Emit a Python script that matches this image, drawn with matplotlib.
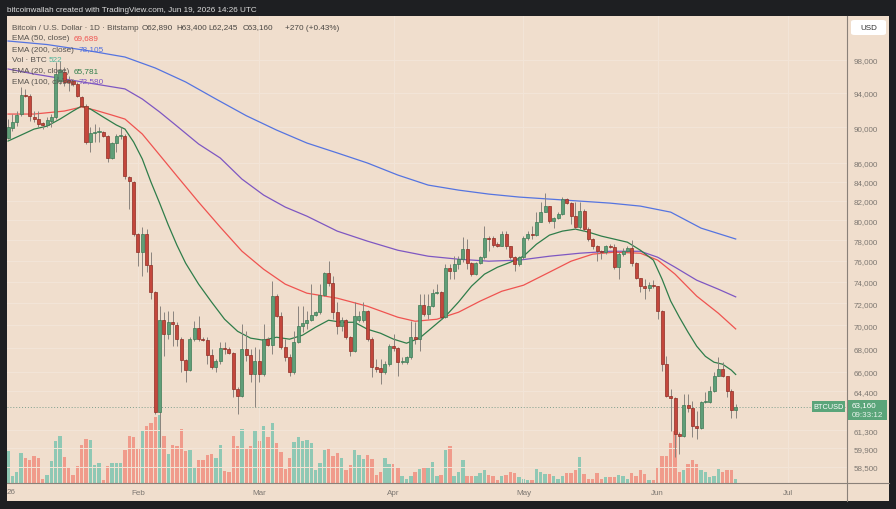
import matplotlib
matplotlib.use("Agg")
import matplotlib.pyplot as plt
import matplotlib.dates as mdates
from matplotlib.patches import Rectangle, FancyBboxPatch
from matplotlib.lines import Line2D
from matplotlib.ticker import NullLocator
import numpy as np
import pandas as pd

plt.rcParams['font.family'] = ['Liberation Sans', 'DejaVu Sans']

# daily candles, Jan 2 .. Jun 19 2026 (BTC/USD, Bitstamp)
opens = [88770, 89890, 90590, 91510, 93740, 93620, 91160, 90930, 90470, 90250,
         90700, 91160, 95430, 96530, 95550, 95430, 95070, 93500, 92450, 88320,
         89330, 89440, 89440, 88990, 86550, 88210, 88990, 88990, 84480, 83950,
         78590, 76810, 78590, 75550, 73010, 62700, 70460, 69220, 70280, 70010,
         68790, 66980, 66140, 68790, 69750, 68790, 68700, 67400, 66390, 66890,
         68010, 67920, 67580, 64560, 63980, 67920, 67400, 65800, 66890, 65800,
         68790, 68270, 72650, 70820, 68090, 67230, 65970, 68530, 69930, 70190,
         70460, 70910, 71180, 72740, 74790, 73850, 71180, 69930, 70460, 68960,
         67750, 70460, 70460, 71270, 68790, 66390, 66300, 65970, 66640, 68180,
         68010, 66810, 66810, 67230, 68960, 68790, 71810, 71000, 71720, 72920,
         73010, 70730, 75260, 74980, 75650, 76130, 77100, 75750, 74700, 75750,
         76320, 78190, 78190, 77590, 77390, 78590, 77390, 76320, 75650, 76320,
         78190, 78590, 78490, 79800, 80810, 81430, 79900, 80200, 80610, 82160,
         81740, 80400, 79290, 80910, 79090, 78090, 77390, 76900, 76810, 77390,
         77300, 75360, 76620, 76900, 77200, 75750, 74320, 73570, 73380, 73660,
         73570, 71270, 66640, 63980, 63820, 60970, 60820, 63260, 63020, 61590,
         61440, 63500, 63500, 64400, 65630, 66220, 65630, 64400, 62890]
highs = [90930, 91510, 91860, 94710, 94470, 93860, 91860, 91860, 90590, 91160,
         91510, 97750, 97880, 97130, 96040, 95670, 95310, 93620, 92680, 90010,
         90360, 90010, 89560, 89100, 88320, 89210, 90010, 89210, 84590, 84060,
         78690, 79290, 79090, 76810, 73100, 71720, 71180, 71270, 71270, 70280,
         68960, 67060, 68960, 70370, 70820, 68960, 68960, 67920, 67060, 68530,
         68530, 68090, 67660, 64720, 70100, 69480, 67920, 68090, 67920, 70100,
         68960, 74040, 72830, 71180, 68790, 67490, 69480, 71720, 71720, 71270,
         73760, 71270, 73760, 74890, 75940, 74510, 72100, 70730, 70550, 69050,
         72100, 71270, 72100, 71360, 68960, 67060, 67060, 66890, 68350, 69220,
         68090, 67230, 67310, 70370, 70280, 72830, 72830, 72830, 73290, 73760,
         73100, 75650, 75650, 76420, 76420, 78290, 78090, 75840, 75840, 76420,
         79390, 78390, 78390, 77790, 78890, 78890, 77390, 76420, 76420, 78390,
         78890, 79390, 80810, 81840, 82780, 81430, 80300, 80810, 82370, 82260,
         81840, 81840, 81840, 81120, 79290, 78190, 77490, 77000, 77490, 77590,
         77590, 76810, 77200, 77390, 77990, 75840, 74320, 74230, 73940, 74130,
         73570, 71360, 67310, 64560, 63900, 61130, 64150, 64150, 63580, 62780,
         63580, 64310, 64800, 65970, 67230, 66810, 65630, 64560, 63400]
lows = [88660, 89560, 90120, 91280, 93500, 90700, 90590, 90010, 89780, 90010,
        90010, 90930, 95070, 94830, 94230, 94830, 93500, 92330, 88100, 87210,
        88320, 88320, 88880, 86110, 86440, 87210, 88660, 84270, 81120, 78390,
        75460, 74510, 74890, 72370, 62540, 59970, 67310, 68790, 68180, 68180,
        65970, 65130, 66060, 68620, 68620, 68620, 66640, 66220, 65970, 66640,
        67490, 67490, 63900, 62540, 63900, 66890, 65130, 63100, 65130, 65630,
        68180, 67490, 70730, 67920, 66890, 65630, 65800, 68440, 69400, 69660,
        70370, 70820, 71000, 72650, 73570, 70550, 69220, 69480, 68790, 67310,
        67660, 70280, 70280, 68620, 65550, 65970, 64970, 65800, 66470, 67750,
        65630, 66640, 66640, 67060, 68350, 67750, 70820, 70550, 71630, 72830,
        70550, 70640, 74230, 74230, 75170, 75840, 75170, 74510, 74610, 75650,
        76130, 76900, 77300, 77300, 77390, 77100, 76130, 74980, 75460, 76130,
        77990, 78090, 78390, 79800, 80810, 79700, 79190, 80100, 80500, 81640,
        79600, 79090, 79090, 78890, 77890, 77100, 75940, 76130, 76620, 77200,
        75170, 74230, 76420, 76810, 75460, 74230, 73010, 72370, 73100, 73380,
        70550, 66060, 63900, 61210, 59220, 59440, 60740, 62700, 60740, 60590,
        61360, 63420, 63420, 64310, 65630, 65550, 63900, 62220, 62245]
closes = [90010, 90590, 91390, 93740, 93620, 91280, 90930, 90360, 90250, 90820,
          91160, 96280, 96770, 95310, 95310, 95070, 93620, 92450, 88320, 89330,
          89440, 89550, 88990, 86550, 88210, 88990, 89100, 84590, 84060, 78590,
          76810, 78590, 75550, 73010, 62700, 70460, 69220, 70280, 70100, 68790,
          66980, 66140, 68790, 69750, 68790, 68700, 67400, 66390, 66890, 68010,
          67920, 67580, 64560, 63980, 67920, 67400, 65800, 66890, 65800, 68790,
          68270, 72650, 70820, 68090, 67230, 65970, 68530, 69930, 70190, 70460,
          70910, 71180, 72740, 74790, 73850, 71180, 69930, 70460, 68960, 67750,
          70820, 70820, 71270, 68790, 66390, 66220, 65970, 66640, 68180, 68010,
          66810, 66890, 67230, 68960, 68790, 71810, 71000, 71720, 72920, 73010,
          70730, 75260, 74980, 75650, 76130, 77100, 75750, 74700, 75750, 76320,
          78190, 78090, 77490, 77390, 78590, 77390, 76320, 75650, 76320, 78190,
          78590, 78490, 79800, 80810, 81430, 79900, 80200, 80610, 82160, 81740,
          80400, 79290, 80910, 79090, 78090, 77390, 76900, 76810, 77390, 77300,
          75360, 76620, 76900, 77200, 75750, 74320, 73570, 73380, 73660, 73570,
          71270, 66640, 63980, 63820, 60970, 60820, 63260, 63020, 61590, 61440,
          63500, 63580, 64400, 65630, 66220, 65630, 64400, 62890, 63160]
volume = [4160, 910, 1430, 3900, 3250, 2990, 3510, 3250, 520, 1040,
          2860, 5460, 6110, 3380, 2080, 1040, 2210, 4940, 5720, 5590,
          2340, 2600, 390, 2210, 2600, 2600, 2600, 4290, 6070, 5980,
          4420, 6850, 7450, 7800, 8580, 8840, 6110, 3770, 4940, 4770,
          7020, 4120, 4250, 2080, 2950, 2950, 3680, 3810, 3250, 4980,
          1520, 1390, 6150, 4770, 7020, 4550, 4750, 6850, 5420, 7450,
          5980, 7800, 5200, 3990, 1820, 3250, 5290, 5980, 5500, 5630,
          5200, 1730, 2600, 4330, 4550, 3550, 3900, 3250, 1650, 2380,
          4250, 3680, 3120, 3680, 3120, 980, 1430, 3250, 2510, 2510,
          1950, 870, 520, 870, 1390, 1820, 1950, 1950, 2690, 950,
          1080, 4250, 4770, 950, 1390, 2950, 950, 870, 950, 1300,
          1730, 1080, 870, 350, 850, 1080, 1390, 1300, 780, 520,
          430, 430, 1820, 1390, 1170, 1170, 870, 520, 870, 1300,
          1300, 1650, 3380, 1210, 520, 520, 1300, 520, 780, 780,
          780, 1080, 870, 520, 1300, 950, 1650, 1210, 430, 430,
          2080, 3550, 3470, 5200, 6760, 1390, 1650, 2510, 3030, 2510,
          1730, 1390, 780, 950, 1820, 1390, 1650, 1730, 522]

# EMA readings (day offset from Jan 1, value)
ema20_days = [1, 4, 7, 10, 13, 16, 18, 20, 23, 26, 28, 30, 32, 34, 36, 38, 40, 42, 45, 48,
              51, 54, 57, 60, 63, 66, 69, 72, 75, 78, 81, 84, 87, 90, 93, 96, 99, 102, 105, 108,
              111, 114, 117, 120, 123, 126, 129, 132, 135, 138, 141, 144, 147, 150, 152, 154, 156, 158, 160, 162,
              164, 166, 168, 169]
ema20 = [88430, 89100, 89780, 90120, 90930, 91860, 92450, 92100, 91160, 90250,
         89780, 88320, 86440, 83950, 81740, 79500, 77490, 75750, 73760, 72100,
         70550, 69480, 68880, 68700, 68960, 68790, 69140, 69840, 70460, 70280,
         70280, 69660, 69310, 68790, 68440, 68880, 69840, 70820, 72100, 73570,
         74700, 75360, 75840, 76420, 77590, 78490, 78890, 79090, 78790, 78390,
         78090, 77790, 77000, 76040, 74230, 72190, 70730, 69400, 68180, 67310,
         66810, 66640, 66140, 65781]
ema50_days = [1, 7, 14, 18, 21, 25, 28, 32, 36, 40, 45, 50, 55, 60, 65, 70, 77, 84, 91, 95,
              100, 105, 110, 115, 120, 126, 131, 136, 141, 147, 151, 155, 160, 165, 169]
ema50 = [91510, 91510, 91860, 92330, 91980, 91390, 90930, 89220, 86880, 84590,
         81840, 79290, 76910, 75170, 73760, 72920, 72460, 71720, 70730, 70370,
         70550, 71180, 72190, 73100, 73660, 74890, 75940, 76620, 76810, 76710,
         76040, 74700, 72650, 71090, 69689]
ema100_days = [1, 7, 14, 21, 28, 32, 36, 40, 45, 50, 55, 60, 65, 70, 77, 84, 91, 98, 105, 112,
               119, 126, 133, 140, 147, 151, 155, 160, 165, 169]
ema100 = [96890, 96280, 95670, 95070, 94470, 93270, 91750, 90120, 88100, 86550,
          84270, 82580, 81330, 80400, 78890, 77890, 77000, 76420, 76130, 75940,
          76040, 76420, 76710, 76900, 76900, 76320, 75360, 74130, 73290, 72580]
ema200_days = [1, 10, 20, 28, 35, 42, 49, 56, 63, 70, 77, 84, 91, 98, 105, 112,
               119, 126, 133, 140, 147, 154, 161, 169]
ema200 = [100390, 99940, 99120, 98370, 97010, 95310, 93270, 91320, 89670, 88210, 87110, 86000,
          84700, 83630, 83100, 82680, 82370, 82160, 81950, 81740, 81430, 80810, 79190, 78105]

price_ticks = [58500, 59900, 61300, 64400, 66000, 68000, 70000, 72000, 74000, 76000,
               78000, 80000, 82000, 84000, 86000, 90000, 94000, 98000]
months = ['Feb', 'Mar', 'Apr', 'May', 'Jun', 'Jul']

BG = '#f0decd'
DARK = '#1e1f22'
UP, UP_EDGE = '#5f9e78', '#3d7a55'
DN, DN_EDGE = '#c4473c', '#8e2d24'
VOL_UP, VOL_DN = '#8fc8b4', '#f09b8b'
LBL = '#57524d'
AXC = '#7d7771'

W, H = 896, 510
def fx(x):
    return x / W
def fy(y):
    return 1 - y / H

dates = pd.date_range('2026-01-02', periods=len(closes), freq='D')
xd = mdates.date2num(dates)
jan1 = mdates.date2num(pd.Timestamp('2026-01-01'))
o = np.array(opens, float)
h = np.array(highs, float)
l = np.array(lows, float)
c = np.array(closes, float)
up = c >= o

fig = plt.figure(figsize=(8.96, 5.10), dpi=100, facecolor=DARK)
fig.patches.append(Rectangle((fx(7), fy(502)), fx(889) - fx(7), fy(17) - fy(502),
                             transform=fig.transFigure, facecolor=BG, edgecolor='none', zorder=-5))

rect = [fx(7), fy(484), fx(847) - fx(7), fy(17) - fy(484)]
axv = fig.add_axes(rect)
ax = fig.add_axes(rect, sharex=axv)
axv.set_facecolor(BG)
ax.patch.set_visible(False)

# volume
axv.bar(xd, volume, width=0.78, color=np.where(up, VOL_UP, VOL_DN), linewidth=0)
axv.set_ylim(0, 467 * 130)
axv.set_yticks([])
axv.tick_params(axis='x', length=0, labelbottom=False)
for s in axv.spines.values():
    s.set_visible(False)

# price
ax.set_yscale('log')
ax.set_ylim(57325, 103622)
ax.set_xlim(jan1 + 0.76, jan1 + 194.7)
ax.yaxis.set_minor_locator(NullLocator())
ax.yaxis.tick_right()
ax.set_yticks(price_ticks)
ax.set_yticklabels([f'{t:,}' for t in price_ticks])
mt = [mdates.date2num(pd.Timestamp(f'2026-{m:02d}-01')) for m in range(2, 8)]
ax.set_xticks(mt)
ax.set_xticklabels(months)
ax.tick_params(axis='y', length=0, pad=5, labelsize=5.8, labelcolor=AXC)
ax.tick_params(axis='x', length=0, pad=4, labelsize=5.8, labelcolor=AXC)
for s in ax.spines.values():
    s.set_visible(False)
ax.grid(True, color='#f3e5d8', lw=0.7, zorder=0)

ax.plot(jan1 + np.array(ema200_days), ema200, color='#5574e0', lw=0.9, zorder=2)
ax.plot(jan1 + np.array(ema100_days), ema100, color='#7e57c2', lw=0.9, zorder=2)
ax.plot(jan1 + np.array(ema50_days), ema50, color='#ef5350', lw=0.9, zorder=2)
ax.plot(jan1 + np.array(ema20_days), ema20, color='#2f7d4a', lw=0.9, zorder=2)

ax.axhline(closes[-1], color='#7fa08e', lw=0.7, ls=(0, (1, 2)), zorder=2)

ax.vlines(xd, l, h, color='#8a847e', lw=0.7, zorder=3)
ax.bar(xd, np.abs(c - o), bottom=np.minimum(o, c), width=0.7,
       color=np.where(up, UP, DN), edgecolor=np.where(up, UP_EDGE, DN_EDGE),
       linewidth=0.5, zorder=4)

# frame lines
fig.lines.append(Line2D([fx(847), fx(847)], [fy(17), fy(502)], transform=fig.transFigure,
                        color='#8a8179', lw=0.8))
fig.lines.append(Line2D([fx(7), fx(889)], [fy(484), fy(484)], transform=fig.transFigure,
                        color='#8a8179', lw=0.8))

fig.text(fx(11), fy(493), '26', color=AXC, fontsize=5.8, ha='center', va='center')

# header
fig.text(fx(7), fy(10), 'bitcoinwallah created with TradingView.com, Jun 19, 2026 14:26 UTC',
         color='#dcdcdc', fontsize=5.9, va='center')

# USD box
fig.patches.append(FancyBboxPatch((fx(851), fy(36)), fx(886) - fx(851), fy(21) - fy(36),
                                  boxstyle='round,pad=0.0,rounding_size=0.004',
                                  transform=fig.transFigure, facecolor='white',
                                  edgecolor='none', zorder=5))
fig.text(fx(868.5), fy(28.5), 'USD', color='#333333', fontsize=5.8, ha='center', va='center', zorder=6)

# last price labels
LAST = '#5aa57a'
fig.patches.append(Rectangle((fx(812), fy(413)), fx(845) - fx(812), fy(402) - fy(413),
                             transform=fig.transFigure, facecolor=LAST, edgecolor='none', zorder=5))
fig.text(fx(828.5), fy(407.7), 'BTCUSD', color='white', fontsize=5.3, ha='center', va='center', zorder=6)
fig.patches.append(Rectangle((fx(848), fy(421)), fx(887) - fx(848), fy(401) - fy(421),
                             transform=fig.transFigure, facecolor=LAST, edgecolor='none', zorder=5))
fig.text(fx(852), fy(406), f'{closes[-1]:,}', color='white', fontsize=5.8, va='center', zorder=6)
fig.text(fx(852), fy(415.5), '09:33:12', color='#e6f2ea', fontsize=5.8, va='center', zorder=6)

# legend
fs = 5.9
fig.text(fx(12), fy(28), 'Bitcoin / U.S. Dollar · 1D · Bitstamp', color=LBL, fontsize=fs, va='center')
ohlc = [(141.5, f'O{opens[-1]:,}'), (176, f'H{highs[-1]:,}'), (208, f'L{lows[-1]:,}'),
        (243, f'C{closes[-1]:,}'), (285, '+270 (+0.43%)')]
for px, s in ohlc:
    fig.text(fx(px), fy(28), s, color='#4a4743', fontsize=fs, va='center')
legend = [(38.7, 'EMA (50, close)', 74, f'{ema50[-1]:,}', '#ef5350'),
          (50, 'EMA (200, close)', 79, f'{ema200[-1]:,}', '#4f6fe0'),
          (60.7, 'Vol · BTC', 49, f'{volume[-1]}', '#4fb39a'),
          (71.3, 'EMA (20, close)', 74, f'{ema20[-1]:,}', '#2f7d4a'),
          (82, 'EMA (100, close)', 79, f'{ema100[-1]:,}', '#7e57c2')]
for py, name, vx, val, col in legend:
    fig.text(fx(12), fy(py), name, color=LBL, fontsize=fs, va='center')
    fig.text(fx(vx), fy(py), val, color=col, fontsize=fs, va='center')

fig.savefig('out.png', dpi=100, facecolor=DARK)
